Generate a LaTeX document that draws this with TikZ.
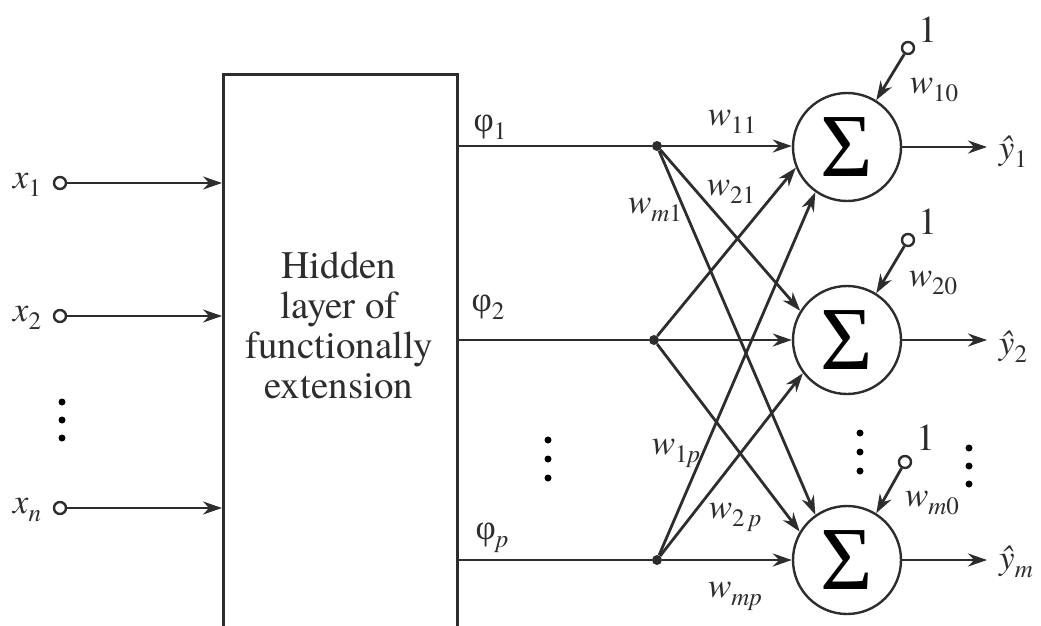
\documentclass[tikz,border=0pt]{standalone}
\usepackage{fontspec}
\setmainfont{texgyretermes}[Extension=.otf,UprightFont=*-regular,ItalicFont=*-italic,BoldFont=*-bold,BoldItalicFont=*-bolditalic]
\newfontfamily\grk{Liberation Serif}
\usetikzlibrary{arrows.meta}
\definecolor{ink}{RGB}{45,45,45}
\newcommand\mysb[1]{\raisebox{-0.5ex}{\fontsize{25}{25}\selectfont #1}}
\begin{document}
\begin{tikzpicture}[x=1pt,y=-1pt,
  wire/.style={draw=ink,line width=2.8pt},
  arr/.style={wire,-{Stealth[length=19pt,width=13pt]}},
  sumnode/.style={circle,draw=ink,line width=2.4pt,minimum size=108pt,inner sep=0pt,
    font=\grk\fontsize{90}{90}\selectfont},
  port/.style={circle,draw=ink,line width=2.4pt,fill=white,minimum size=12pt,inner sep=0pt},
  jdot/.style={circle,fill=ink,minimum size=10pt,inner sep=0pt},
  lbl/.style={text=ink,inner sep=0pt,font=\fontsize{35}{37}\selectfont},
  vdot/.style={circle,fill=black,minimum size=7pt,inner sep=0pt}]
\useasboundingbox (0,0) rectangle (1041,626);
\clip (0,0) rectangle (1041,626);
% hidden box (open at the bottom edge)
\node[draw=ink,line width=2.8pt,minimum width=234pt,minimum height=600pt,anchor=north west,inner sep=0pt] (box) at (222,73) {};
\node[lbl,align=center,font=\fontsize{39}{40}\selectfont] (htext) at (339,325) {Hidden\\layer of\\functionally\\extension};
% inputs
\node[port] (in1) at (60,183) {};
\node[port] (in2) at (60,316) {};
\node[port] (inn) at (60,508) {};
\node[lbl] (lx1) at (27,185) {\textit{x}\mysb{1}};
\node[lbl] (lx2) at (27,318) {\textit{x}\mysb{2}};
\node[lbl] (lxn) at (27,510) {\textit{x}\mysb{\textit{n}}};
\draw[arr] (in1) -- (in1 -| box.west);
\draw[arr] (in2) -- (in2 -| box.west);
\draw[arr] (inn) -- (inn -| box.west);
\node[vdot] (d1) at (62,402) {};
\node[vdot] (d2) at (62,420) {};
\node[vdot] (d3) at (62,438) {};
% summation nodes
\node[sumnode] (s1) at (847,147) {Σ};
\node[sumnode] (s2) at (847,340) {Σ};
\node[sumnode] (s3) at (847,560) {Σ};
% junctions
\node[jdot] (j1) at (657,146) {};
\node[jdot] (j2) at (654,340) {};
\node[jdot] (jp) at (657,560) {};
\draw[wire] (j1 -| box.east) -- (j1);
\draw[wire] (j2 -| box.east) -- (j2);
\draw[wire] (jp -| box.east) -- (jp);
% connections
\draw[arr] (j1) -- (s1.west |- j1);
\draw[arr] (j1) -- (s2.148);
\draw[arr] (j1) -- (s3.125);
\draw[arr] (j2) -- (s2.west |- j2);
\draw[arr] (j2) -- (s1.202);
\draw[arr] (j2) -- (s3.149);
\draw[arr] (jp) -- (s3.west |- jp);
\draw[arr] (jp) -- (s1.235);
\draw[arr] (jp) -- (s2.217);
% biases
\node[port] (b1) at (908,48) {};
\node[port] (b2) at (908,240) {};
\node[port] (b3) at (905,462) {};
\draw[arr] (b1) -- (s1.58);
\draw[arr] (b2) -- (s2.58);
\draw[arr] (b3) -- (s3.58);
\node[lbl,font=\fontsize{38}{38}\selectfont] (one1) at (928,30) {1};
\node[lbl,font=\fontsize{38}{38}\selectfont] (one2) at (928,222) {1};
\node[lbl,font=\fontsize{38}{38}\selectfont] (one3) at (926,438) {1};
% outputs
\coordinate (o1) at (987,147);
\coordinate (o2) at (987,340);
\coordinate (o3) at (987,560);
\draw[arr] (s1) -- (o1);
\draw[arr] (s2) -- (o2);
\draw[arr] (s3) -- (o3);
\node[lbl] (y1) at (1013,152) {\textit{\^y}\mysb{1}};
\node[lbl] (y2) at (1013,347) {\textit{\^y}\mysb{2}};
\node[lbl] (ym) at (1016,562) {\textit{\^y}\mysb{\textit{m}}};
% phi labels
\node[lbl] (p1) at (490,127) {{\grk φ}\mysb{1}};
\node[lbl] (p2) at (488,307) {{\grk φ}\mysb{2}};
\node[lbl] (pp) at (492,538) {{\grk φ}\mysb{\textit{p}}};
\node[vdot] (e1) at (548,440) {};
\node[vdot] (e2) at (548,459) {};
\node[vdot] (e3) at (548,478) {};
% weight labels
\node[lbl] (w11) at (732,122) {\textit{w}\mysb{11}};
\node[lbl] (w21) at (731,192) {\textit{w}\mysb{21}};
\node[lbl] (wm1) at (655,210) {\textit{w}\mysb{\textit{m}1}};
\node[lbl] (w1p) at (676,453) {\textit{w}\mysb{1\textit{p}}};
\node[lbl] (w2p) at (735,517) {\textit{w}\mysb{2\,\textit{p}}};
\node[lbl] (wmp) at (735,596) {\textit{w}\mysb{\textit{mp}}};
\node[lbl] (w10) at (934,90) {\textit{w}\mysb{10}};
\node[lbl] (w20) at (933,283) {\textit{w}\mysb{20}};
\node[lbl] (wm0) at (932,503) {\textit{w}\mysb{\textit{m}0}};
% output dots
\node[vdot] (f1) at (860,433) {};
\node[vdot] (f2) at (860,452) {};
\node[vdot] (f3) at (860,471) {};
\node[vdot] (g1) at (969,448) {};
\node[vdot] (g2) at (969,466) {};
\node[vdot] (g3) at (969,484) {};
\end{tikzpicture}
\end{document}
